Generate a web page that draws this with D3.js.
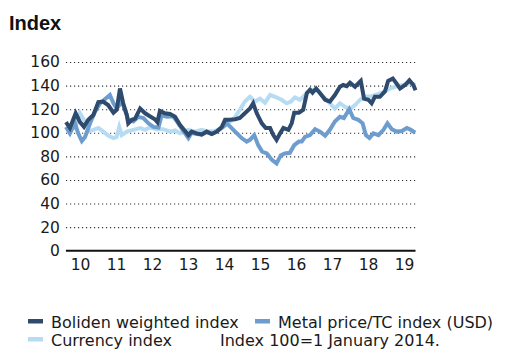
<!DOCTYPE html>
<html>
<head>
<meta charset="utf-8">
<script src="https://cdn.jsdelivr.net/npm/d3@7"></script>
<style>
  html, body { margin: 0; padding: 0; background: #fff; }
  svg { display: block; }
</style>
</head>
<body>
<svg id="chart" width="508" height="349"></svg>
<script>
// Year axis labels (placed at mid-year)
const yearTicks = [2010, 2011, 2012, 2013, 2014, 2015, 2016, 2017, 2018, 2019];
const yearLabels = ["10", "11", "12", "13", "14", "15", "16", "17", "18", "19"];
const valueTicks = [0, 20, 40, 60, 80, 100, 120, 140, 160];

// Boliden weighted index (decimal year, index value)
const bolidenDates = [2010.11, 2010.22, 2010.38, 2010.50, 2010.61, 2010.73, 2010.87, 2011.01, 2011.14, 2011.28,
  2011.43, 2011.52, 2011.61, 2011.70, 2011.80, 2011.84, 2011.94, 2012.03, 2012.17, 2012.31,
  2012.44, 2012.58, 2012.65, 2012.72, 2012.86, 2013.00, 2013.14, 2013.28, 2013.39, 2013.51,
  2013.60, 2013.74, 2013.88, 2014.02, 2014.16, 2014.30, 2014.44, 2014.53, 2014.67, 2014.81,
  2014.94, 2015.08, 2015.22, 2015.31, 2015.41, 2015.55, 2015.66, 2015.78, 2015.87, 2015.96,
  2016.06, 2016.15, 2016.29, 2016.38, 2016.45, 2016.58, 2016.70, 2016.80, 2016.89, 2016.96,
  2017.06, 2017.17, 2017.31, 2017.44, 2017.58, 2017.72, 2017.81, 2017.91, 2018.00, 2018.14,
  2018.30, 2018.39, 2018.51, 2018.60, 2018.69, 2018.83, 2018.97, 2019.06, 2019.19, 2019.30,
  2019.39, 2019.53, 2019.65, 2019.76, 2019.82];
const bolidenValues = [109, 104, 116.5, 109, 105, 111, 115, 126, 126.5, 123.5,
  117, 119.5, 137.5, 125, 115, 108, 111, 112, 120.5, 116.5,
  114, 111.5, 109, 118.5, 116.5, 116, 113.5, 106.5, 102.5, 98,
  101, 99.5, 98.5, 101, 99, 101, 105, 111, 111, 111.5,
  112.5, 116.5, 120.5, 125, 116.5, 108, 104, 104, 98, 94,
  99.5, 104, 102.5, 108, 117, 117, 119.5, 133.5, 136.5, 134,
  137.5, 133.5, 128, 126.5, 132, 139, 140.5, 139.5, 142.5, 139,
  144, 129, 128, 125, 130.5, 130.5, 135, 144, 146, 141.5,
  137.5, 140.5, 144.5, 140.5, 136];

// Metal price/TC index (USD)
const metalDates = [2010.11, 2010.22, 2010.36, 2010.45, 2010.55, 2010.64, 2010.78, 2010.92, 2011.06, 2011.19,
  2011.33, 2011.43, 2011.52, 2011.66, 2011.75, 2011.84, 2011.98, 2012.12, 2012.26, 2012.40,
  2012.54, 2012.68, 2012.77, 2012.91, 2013.09, 2013.23, 2013.35, 2013.51, 2013.60, 2013.74,
  2013.88, 2014.02, 2014.16, 2014.30, 2014.44, 2014.58, 2014.76, 2014.99, 2015.13, 2015.22,
  2015.34, 2015.45, 2015.56, 2015.69, 2015.83, 2015.96, 2016.08, 2016.19, 2016.33, 2016.45,
  2016.58, 2016.66, 2016.75, 2016.89, 2017.03, 2017.17, 2017.31, 2017.44, 2017.58, 2017.72,
  2017.83, 2017.98, 2018.09, 2018.23, 2018.35, 2018.44, 2018.54, 2018.65, 2018.79, 2018.93,
  2019.04, 2019.16, 2019.30, 2019.44, 2019.58, 2019.69, 2019.81];
const metalValues = [105, 99.5, 108, 99.5, 93, 96.5, 108, 118, 125, 128.5,
  132, 125, 120.5, 126.5, 119.5, 111, 109.5, 113.5, 112.5, 108,
  105, 104.5, 115, 113.5, 114, 108, 102.5, 95.5, 100, 99,
  98.5, 100.5, 99, 101, 104, 108, 102.5, 95.5, 92.5, 94,
  98, 89.5, 84, 82.5, 77, 74, 81, 82.5, 83, 89.5,
  92.5, 92.5, 96.5, 98, 103, 101, 97.5, 102.5, 109.5, 113.5,
  112.5, 120, 112.5, 111, 108, 98, 95.5, 99.5, 98, 102.5,
  108, 103, 101, 101.5, 104, 102.5, 100];

// Currency index
const currencyDates = [2010.11, 2010.22, 2010.36, 2010.50, 2010.64, 2010.73, 2010.87, 2011.01, 2011.15, 2011.29,
  2011.43, 2011.52, 2011.59, 2011.66, 2011.80, 2011.98, 2012.17, 2012.31, 2012.44, 2012.63,
  2012.81, 2013.00, 2013.14, 2013.28, 2013.39, 2013.51, 2013.69, 2013.88, 2014.06, 2014.25,
  2014.44, 2014.62, 2014.81, 2014.94, 2015.08, 2015.22, 2015.36, 2015.50, 2015.64, 2015.78,
  2015.92, 2016.10, 2016.24, 2016.36, 2016.47, 2016.61, 2016.75, 2016.89, 2017.07, 2017.21,
  2017.35, 2017.49, 2017.58, 2017.72, 2017.86, 2018.00, 2018.14, 2018.28, 2018.42, 2018.60,
  2018.79, 2018.97, 2019.11, 2019.30, 2019.48, 2019.67, 2019.81];
const currencyValues = [102.5, 104, 104, 116.5, 109.5, 101, 102.5, 104, 101, 97.5,
  95.5, 96.5, 105, 98, 101, 102.5, 104, 102.5, 104.5, 103,
  103, 101, 102, 99.5, 101, 102.5, 101, 102.5, 101, 101.5,
  104, 108, 113.5, 119.5, 126.5, 130.5, 126.5, 129, 125.5, 132,
  130.5, 128, 125, 126.5, 130, 128, 132, 136.5, 136.5, 132,
  128, 123.5, 120.5, 125, 122, 120, 123.5, 128, 130.5, 131,
  133, 135, 137.5, 139.5, 140.5, 142, 140.5];

const seriesNames = ["Boliden weighted index", "Metal price/TC index (USD)", "Currency index"];
const seriesColors = ["#2e4a6d", "#6d9dcf", "#b6dcf4"];
const footnote = "Index 100=1 January 2014.";

const svg = d3.select("#chart");
const fontFamily = "'DejaVu Sans', sans-serif";

const x = d3.scaleLinear().domain([2010, 2020]).range([62, 422]);
const y = d3.scaleLinear().domain([0, 160]).range([250.7, 62]);

const xStart = x(2010.11), xEnd = x(2019.82);

// Title
svg.append("text")
  .attr("x", 9).attr("y", 30)
  .attr("font-family", "'Liberation Sans', Arial, sans-serif")
  .attr("font-weight", "bold").attr("font-size", 20)
  .attr("fill", "#111")
  .text("Index");

// Dotted gridlines
const grid = svg.append("g")
  .attr("transform", `translate(${xStart},0)`)
  .call(d3.axisLeft(y).tickValues(valueTicks.filter(v => v > 0))
    .tickSize(-(xEnd - xStart)).tickFormat(""));
grid.select(".domain").remove();
grid.selectAll(".tick line")
  .attr("stroke", "#333").attr("stroke-width", 1.1)
  .attr("stroke-dasharray", "1.2,2.8");

// Value axis labels
const yAxis = svg.append("g")
  .attr("transform", `translate(${xStart},0)`)
  .call(d3.axisLeft(y).tickValues(valueTicks).tickSize(0).tickPadding(6));
yAxis.select(".domain").remove();
yAxis.selectAll("text")
  .attr("font-family", fontFamily).attr("font-size", 15.5).attr("fill", "#1a1a1a");

// Year axis
const xAxis = svg.append("g")
  .attr("transform", `translate(0,${y(0)})`)
  .call(d3.axisBottom(x).tickValues(yearTicks.map(t => t + 0.5))
    .tickSize(0).tickPadding(8)
    .tickFormat((d, i) => yearLabels[i]));
xAxis.select(".domain").remove();
xAxis.selectAll("text")
  .attr("font-family", fontFamily).attr("font-size", 15.5).attr("fill", "#1a1a1a");

// Baseline
svg.append("line")
  .attr("x1", xStart).attr("x2", xEnd)
  .attr("y1", y(0)).attr("y2", y(0))
  .attr("stroke", "#111").attr("stroke-width", 2);

// Series lines
const line = d3.line()
  .x(d => x(d[0])).y(d => y(d[1]));

const series = [
  { dates: currencyDates, values: currencyValues, color: seriesColors[2] },
  { dates: metalDates, values: metalValues, color: seriesColors[1] },
  { dates: bolidenDates, values: bolidenValues, color: seriesColors[0] }
];

series.forEach(s => {
  svg.append("path")
    .datum(s.dates.map((d, i) => [d, s.values[i]]))
    .attr("fill", "none")
    .attr("stroke", s.color)
    .attr("stroke-width", 4)
    .attr("stroke-linejoin", "miter")
    .attr("d", line);
});

// Legend
const legendItems = [
  { name: seriesNames[0], color: seriesColors[0], x: 28, y: 328 },
  { name: seriesNames[1], color: seriesColors[1], x: 255, y: 328 },
  { name: seriesNames[2], color: seriesColors[2], x: 28, y: 346 }
];
const legend = svg.append("g");
legendItems.forEach(it => {
  legend.append("rect")
    .attr("x", it.x).attr("y", it.y - 9)
    .attr("width", 15).attr("height", 4.5)
    .attr("fill", it.color);
  legend.append("text")
    .attr("x", it.x + 23).attr("y", it.y)
    .attr("font-family", fontFamily).attr("font-size", 16)
    .attr("fill", "#1a1a1a")
    .text(it.name);
});
legend.append("text")
  .attr("x", 220).attr("y", 346)
  .attr("font-family", fontFamily).attr("font-size", 16)
  .attr("fill", "#1a1a1a")
  .text(footnote);
</script>
</body>
</html>
